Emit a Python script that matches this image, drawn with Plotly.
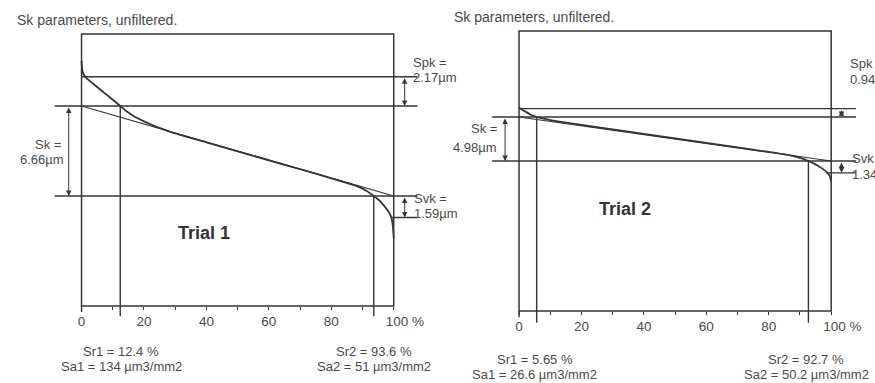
import plotly.graph_objects as go

# Material ratio (Abbott-Firestone) curves: bearing ratio in %, height in µm
# measured from the lower core level.
mr_t1 = [0, 0.15, 0.4, 0.8, 1.5, 3.0, 5.0, 7.5, 10.0, 12.4, 14.0, 16.0, 18.0, 20.0,
         23.0, 26.0, 30.0, 40.0, 50.0, 60.0, 70.0, 80.0, 88.0, 91.5, 93.6, 95.5, 97.0,
         98.3, 99.2, 99.7, 100.0]
h_t1 = [10.0, 9.5, 9.15, 8.95, 8.75, 8.45, 8.07, 7.6, 7.13, 6.66, 6.35, 6.02, 5.75,
        5.52, 5.22, 4.96, 4.63, 3.97, 3.31, 2.64, 1.98, 1.31, 0.75, 0.35, 0.0, -0.35,
        -0.75, -1.15, -1.55, -2.2, -3.1]

mr_t2 = [0, 0.5, 1.5, 2.5, 4.0, 5.65, 10, 20, 30, 40, 50, 60, 70, 80, 86, 90, 92.7,
         94.5, 96, 97.5, 98.7, 99.4, 99.8, 100]
h_t2 = [6.1, 5.9, 5.7, 5.5, 5.2, 4.98, 4.62, 4.08, 3.58, 3.06, 2.55, 2.04, 1.53, 1.02,
        0.68, 0.35, 0.0, -0.3, -0.6, -0.95, -1.3, -1.6, -2.0, -2.3]

trials = ["Trial 1", "Trial 2"]
sk = [6.66, 4.98]
spk = [2.17, 0.94]
svk = [1.59, 1.34]
sr1 = [12.4, 5.65]
sr2 = [93.6, 92.7]
sa1 = ["134", "26.6"]
sa2 = ["51", "50.2"]

tick_vals = [0, 10, 20, 30, 40, 50, 60, 70, 80, 90, 100]
tick_text = ["0", "", "20", "", "40", "", "60", "", "80", "",
             "\u00a0\u00a0\u00a0\u00a0\u00a0\u00a0100 %"]

W, H = 875, 383
XR = [-9, 108]
INK = "#353535"
TXT = "#4a4a4a"
FONT = "Liberation Sans, Arial, sans-serif"

# page geometry of each panel (pixels) and its height scale
panels = [
    dict(px0=82, px100=396, py0=196, pum=13.51, yr=[-9.2, 12.2], top=12.0, bot=-8.14,
         drop=-8.9, lext=-8.6, rext=107.6, svk_from=99.0, arr_l=-4.1, arr_r=103.5,
         title=(15, 20), sk_lab=((48, 144), (42, 159)), spk_lab=(413, 62, 77),
         svk_lab=(414, 198, 213), trial=(205, 233), sr1_lab=(122, 351, 366),
         sr2_lab=(376, 351, 366)),
    dict(px0=522, px100=836, py0=161, pum=8.84, yr=[-18.6, 15.0], top=14.7, bot=-16.97,
         drop=-18.3, lext=-8.6, rext=108.0, svk_from=98.7, arr_l=-4.46, arr_r=103.3,
         title=(455, 17), sk_lab=((487, 128), (478, 147)), spk_lab=(853, 63, 80),
         svk_lab=(855, 158, 175), trial=(629, 209), sr1_lab=(538, 359, 374),
         sr2_lab=(811, 359, 374)),
]
curves = [(mr_t1, h_t1), (mr_t2, h_t2)]


def px(x):
    return x / W


def py(y):
    return 1 - y / H


fig = go.Figure()
shapes = []
annotations = []

for i, p in enumerate(panels):
    n = "" if i == 0 else str(i + 1)
    xa, ya = "x" + n, "y" + n
    sx = (p["px100"] - p["px0"]) / 100.0

    def ypix(v, p=p):
        return p["py0"] - p["pum"] * v

    xdom = [(p["px0"] + sx * XR[0]) / W, (p["px0"] + sx * XR[1]) / W]
    ydom = [(H - ypix(p["yr"][0])) / H, (H - ypix(p["yr"][1])) / H]
    axis_pos = (H - ypix(p["bot"])) / H

    fig.update_layout(**{
        "xaxis" + n: dict(domain=xdom, range=XR, anchor="free", position=axis_pos,
                          showgrid=False, zeroline=False, showline=False,
                          tickmode="array", tickvals=tick_vals, ticktext=tick_text,
                          ticks="outside", ticklen=3, tickwidth=1, tickcolor=INK,
                          tickfont=dict(family=FONT, size=13.5, color=TXT)),
        "yaxis" + n: dict(domain=ydom, range=p["yr"], anchor=xa, showgrid=False,
                          zeroline=False, showline=False, showticklabels=False,
                          ticks=""),
    })

    mr, h = curves[i]
    # equivalent straight line of the core profile
    fig.add_trace(go.Scatter(x=[0, 100], y=[sk[i], 0], mode="lines", xaxis=xa, yaxis=ya,
                             line=dict(color=INK, width=1.2), hoverinfo="skip",
                             showlegend=False))
    # material ratio curve
    fig.add_trace(go.Scatter(x=mr, y=h, mode="lines", xaxis=xa, yaxis=ya,
                             line=dict(color=INK, width=1.8, shape="spline",
                                       smoothing=0.6),
                             hoverinfo="skip", showlegend=False))

    def ln(x0, y0, x1, y1, w=1.4):
        shapes.append(dict(type="line", xref=xa, yref=ya, x0=x0, y0=y0, x1=x1, y1=y1,
                           line=dict(color=INK, width=w)))

    # frame
    shapes.append(dict(type="rect", xref=xa, yref=ya, x0=0, x1=100, y0=p["bot"],
                       y1=p["top"], line=dict(color=INK, width=1.5)))
    ln(0, p["bot"], 0, p["bot"] - 0.45 * (p["top"] - p["bot"]) / 20)
    # levels: peak, core upper, core lower, valley
    ln(0, sk[i] + spk[i], p["rext"], sk[i] + spk[i])
    ln(p["lext"], sk[i], p["rext"], sk[i])
    ln(p["lext"], 0, p["rext"], 0)
    ln(p["svk_from"], -svk[i], p["rext"], -svk[i])
    # material ratio markers
    ln(sr1[i], sk[i], sr1[i], p["drop"])
    ln(sr2[i], 0, sr2[i], p["drop"])

    # dimension arrows
    for xv, y_top, y_bot in [(p["arr_l"], sk[i], 0),
                             (p["arr_r"], sk[i] + spk[i], sk[i]),
                             (p["arr_r"], 0, -svk[i])]:
        annotations.append(dict(xref=xa, yref=ya, axref=xa, ayref=ya, x=xv, y=y_bot,
                                ax=xv, ay=y_top, text="", font=dict(size=1),
                                showarrow=True, arrowside="end+start", arrowhead=2,
                                startarrowhead=2, arrowsize=1.1, startarrowsize=1.1,
                                arrowwidth=1, arrowcolor=INK, standoff=0,
                                startstandoff=0))

    def txt(x, y, s, xanchor="center", size=13.5, bold=False, color=TXT):
        annotations.append(dict(xref="paper", yref="paper", x=px(x), y=py(y), text=s,
                                showarrow=False, xanchor=xanchor, yanchor="middle",
                                font=dict(family=FONT, size=size, color=color,
                                          weight="bold" if bold else "normal")))

    txt(p["title"][0], p["title"][1], "Sk parameters, unfiltered.", xanchor="left",
        size=14)
    txt(p["sk_lab"][0][0], p["sk_lab"][0][1], "Sk =", size=13)
    txt(p["sk_lab"][1][0], p["sk_lab"][1][1], f"{sk[i]:.2f}µm", size=13)
    txt(p["spk_lab"][0], p["spk_lab"][1], "Spk =", xanchor="left", size=13)
    txt(p["spk_lab"][0], p["spk_lab"][2], f"{spk[i]:.2f}µm", xanchor="left", size=13)
    txt(p["svk_lab"][0], p["svk_lab"][1], "Svk =", xanchor="left", size=13)
    txt(p["svk_lab"][0], p["svk_lab"][2], f"{svk[i]:.2f}µm", xanchor="left", size=13)
    txt(p["trial"][0], p["trial"][1], trials[i], size=18, bold=True, color="#333333")
    txt(p["sr1_lab"][0], p["sr1_lab"][1], f"Sr1 = {sr1[i]} %", size=13)
    txt(p["sr1_lab"][0], p["sr1_lab"][2], f"Sa1 = {sa1[i]} µm3/mm2", size=13)
    txt(p["sr2_lab"][0], p["sr2_lab"][1], f"Sr2 = {sr2[i]} %", size=13)
    txt(p["sr2_lab"][0], p["sr2_lab"][2], f"Sa2 = {sa2[i]} µm3/mm2", size=13)

fig.update_layout(width=W, height=H, margin=dict(l=0, r=0, t=0, b=0),
                  paper_bgcolor="white", plot_bgcolor="rgba(0,0,0,0)",
                  shapes=shapes, annotations=annotations, showlegend=False,
                  font=dict(family=FONT, color=TXT))

fig.write_html("out.html")
